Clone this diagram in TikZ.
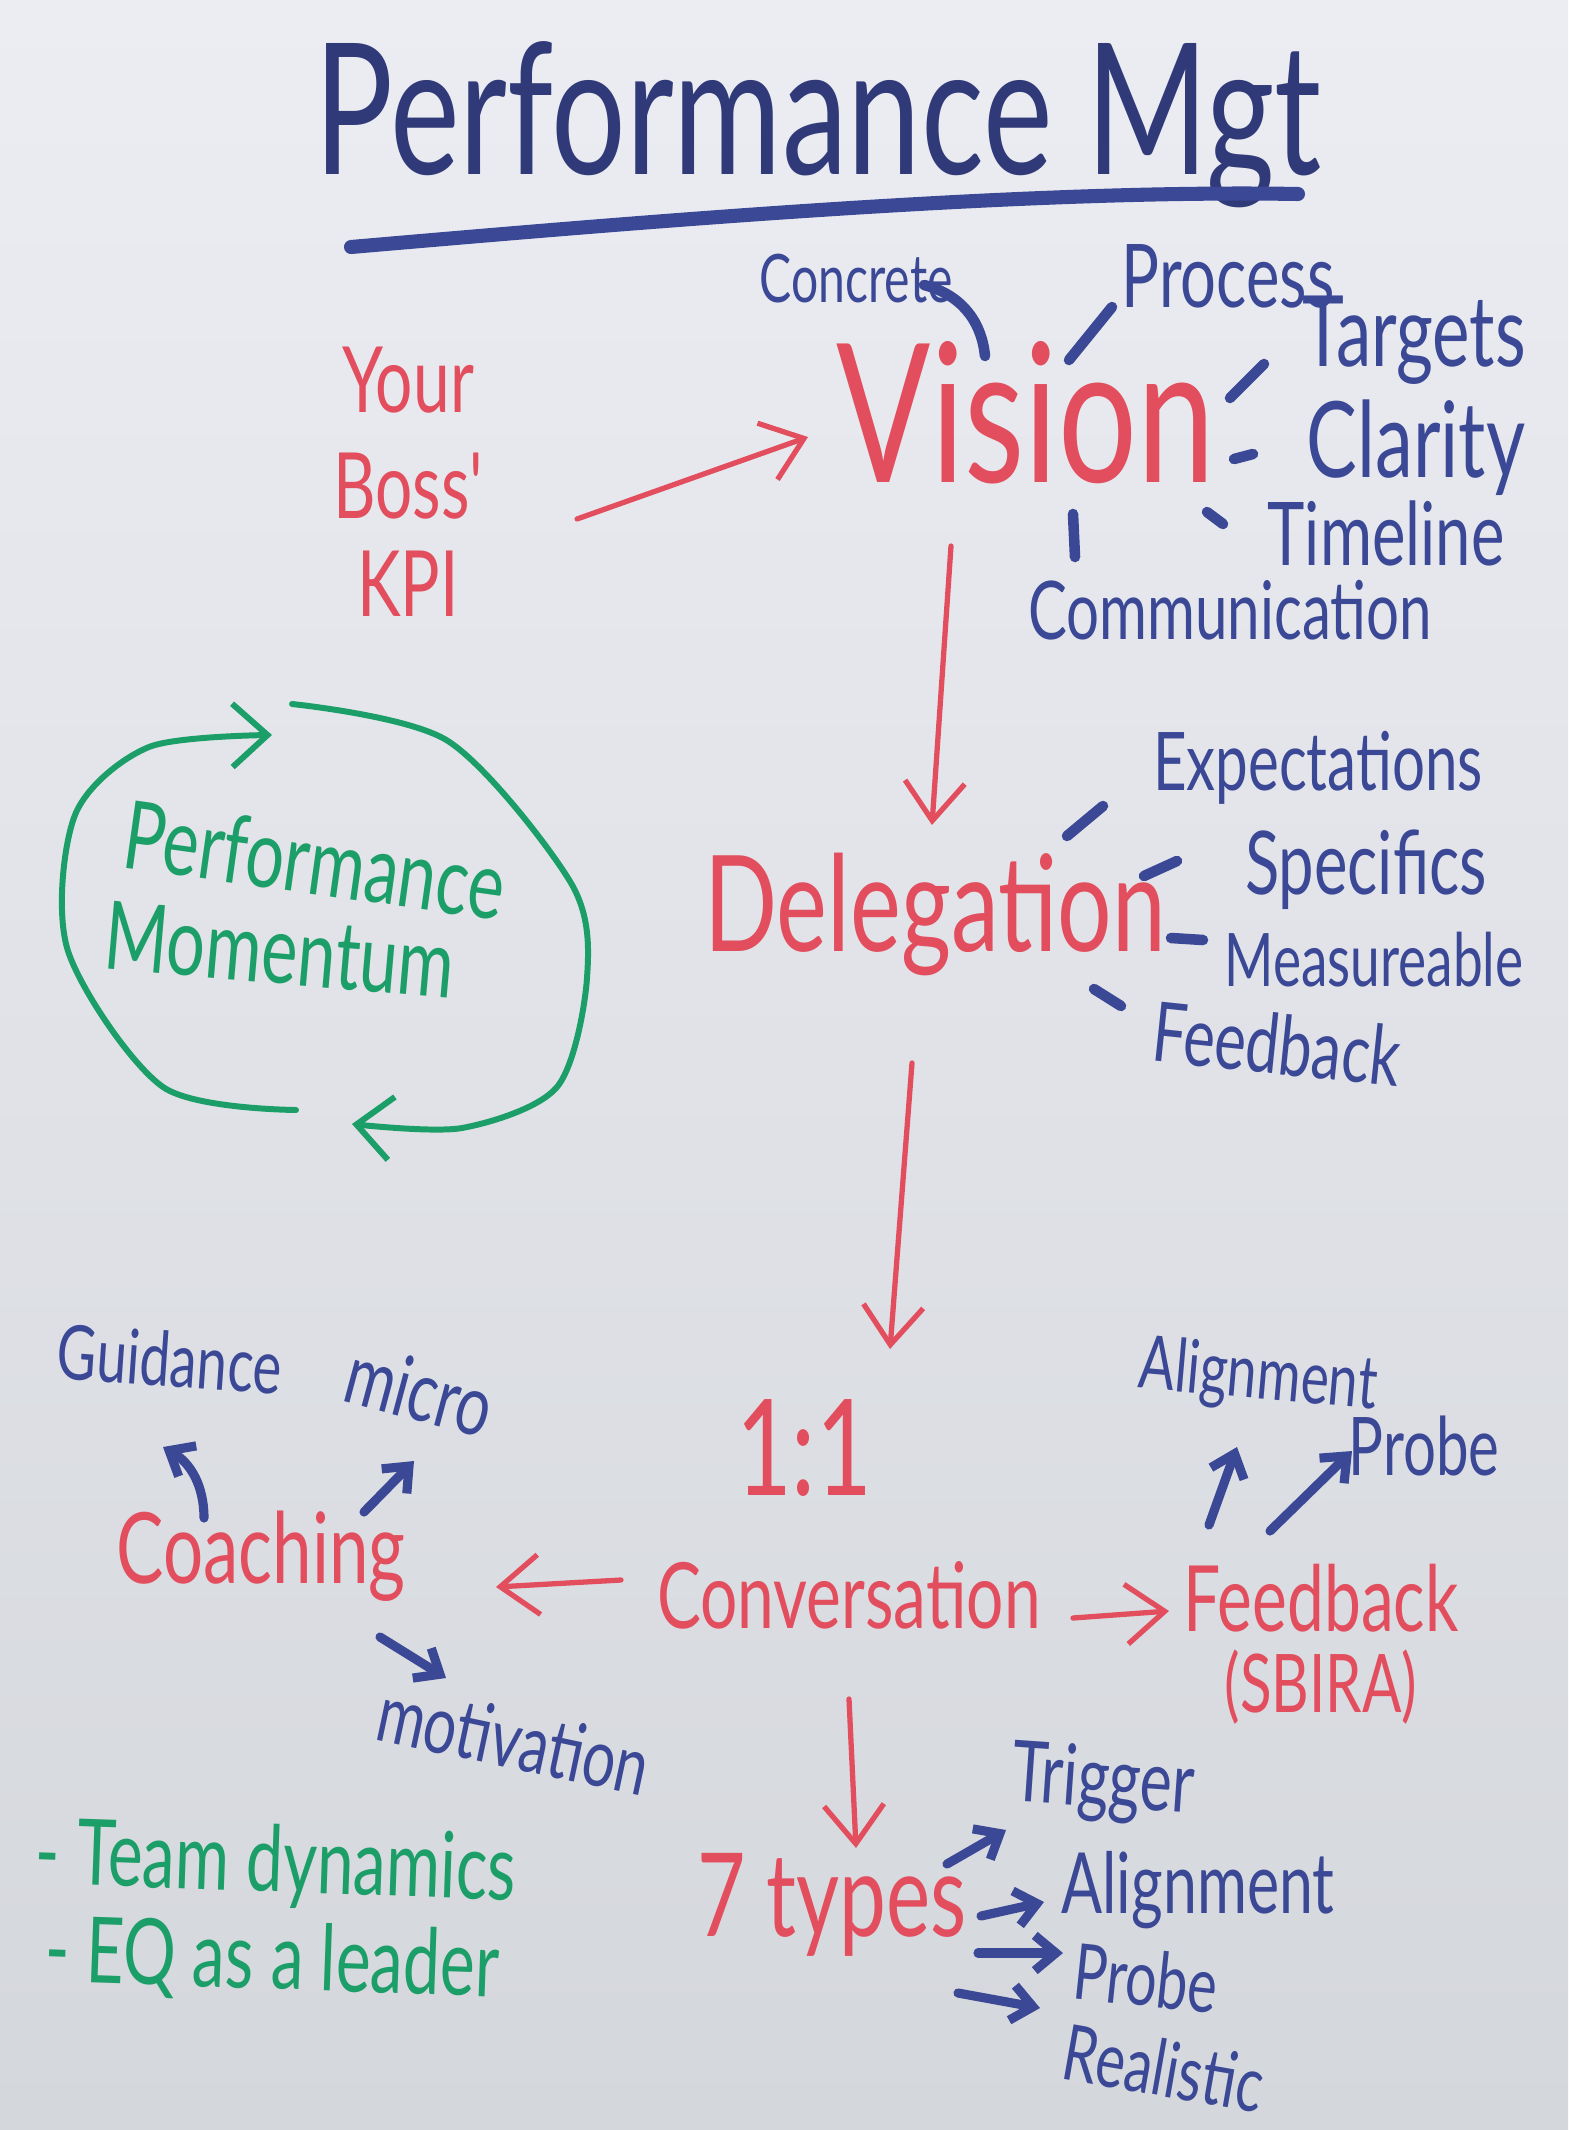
\documentclass[tikz,border=0pt]{standalone}
\usepackage{fontspec}
\newfontfamily\hand[FakeStretch=0.72]{Lato}
\usetikzlibrary{arrows.meta}
\definecolor{markred}{RGB}{226,78,94}
\definecolor{markblue}{RGB}{58,72,150}
\definecolor{inkblue}{RGB}{48,58,120}
\definecolor{markgreen}{RGB}{28,158,104}
\definecolor{boardtop}{RGB}{236,237,242}
\definecolor{boardbot}{RGB}{212,215,220}
\newcommand\mk[1]{\hand\fontsize{#1}{#1}\selectfont}
\tikzset{
  red word/.style={text=markred, inner sep=0pt, anchor=base},
  blue word/.style={text=markblue, inner sep=0pt},
  green word/.style={text=markgreen, inner sep=0pt},
  red arrow/.style={draw=markred, line width=1.5pt, line cap=round,
    -{Straight Barb[length=11pt,width=17pt]}},
  blue arrow/.style={draw=markblue, line width=2.6pt, line cap=round,
    -{Straight Barb[length=6pt,width=10pt]}},
  blue tick/.style={draw=markblue, line width=3pt, line cap=round},
  green arrow/.style={draw=markgreen, line width=1.7pt, line cap=round,
    -{Straight Barb[length=10pt,width=18pt]}},
}
\begin{document}
\begin{tikzpicture}[x=0.01cm,y=-0.01cm]
  \fill[top color=boardtop, bottom color=boardbot] (0,0) rectangle (1568,2130);
  \useasboundingbox (0,0) rectangle (1568,2130);

  % title
  \node[text=inkblue, inner sep=0pt, anchor=base, font=\mk{52}] (title) at (818,174) {Performance Mgt};
  \draw[markblue, line width=4pt, line cap=round]
    ([shift={(-467,73)}]title.base) .. controls ([shift={(-200,50)}]title.base)
    and ([shift={(200,15)}]title.base) .. ([shift={(480,20)}]title.base);

  % main chain
  \node[red word, anchor=center, align=center, font=\mk{26}] (boss) at (408,482) {Your\\[4pt]Boss'\\[2pt]KPI};
  \node[red word, font=\mk{55}] (vision) at (1026,482) {Vision};
  \node[red word, font=\mk{38}] (deleg) at (935,951) {Delegation};
  \node[red word, font=\mk{38}] (one) at (804,1495) {1:1};
  \node[red word, font=\mk{26}] (conv) at (849,1628) {Conversation};
  \node[red word, font=\mk{28}] (coach) at (261,1583) {Coaching};
  \node[red word, font=\mk{26}] (fb) at (1321,1631) {Feedback};
  \node[red word, font=\mk{23}] (sbira) at (1321,1712) {(SBIRA)};
  \node[red word, font=\mk{33}] (seven) at (832,1936) {7 types};

  \draw[red arrow] ([shift={(169,37)}]boss.center) -- ([shift={(-218,-45)}]vision.base);
  \draw[red arrow] ([shift={(-75,64)}]vision.base) -- ([shift={(-3,-126)}]deleg.base);
  \draw[red arrow] ([shift={(-23,112)}]deleg.base) -- ([shift={(86,-146)}]one.base);
  \draw[red arrow] ([shift={(-228,-48)}]conv.base) -- ([shift={(235,4)}]coach.base);
  \draw[red arrow] ([shift={(224,-10)}]conv.base) -- ([shift={(-152,-20)}]fb.base);
  \draw[red arrow] ([shift={(0,71)}]conv.base) -- ([shift={(24,-88)}]seven.base);

  % vision labels
  \node[blue word, font=\mk{19}] (concrete) at (856,279) {Concrete};
  \node[blue word, font=\mk{25}] (process) at (1228,276) {Process};
  \node[blue word, font=\mk{28}] (targets) at (1414,340) {Targets};
  \node[blue word, font=\mk{30}] (clarity) at (1416,448) {Clarity};
  \node[blue word, font=\mk{25}] (timeline) at (1386,533) {Timeline};
  \node[blue word, font=\mk{23}] (comm) at (1230,610) {Communication};
  \draw[blue tick] ([shift={(68,6)}]concrete.center) to[bend left=35] ([shift={(-41,-126)}]vision.base);
  \draw[blue tick] ([shift={(43,-122)}]vision.base) -- ([shift={(-116,31)}]process.center);
  \draw[blue tick] ([shift={(204,-84)}]vision.base) -- ([shift={(-150,24)}]targets.center);
  \draw[blue tick] ([shift={(208,-23)}]vision.base) -- ([shift={(-163,6)}]clarity.center);
  \draw[blue tick] ([shift={(181,30)}]vision.base) -- ([shift={(-163,-9)}]timeline.center);
  \draw[blue tick] ([shift={(47,32)}]vision.base) -- ([shift={(-155,-53)}]comm.center);

  % delegation labels
  \node[blue word, font=\mk{23}] (expect) at (1318,768) {Expectations};
  \node[blue word, font=\mk{25}] (spec) at (1366,870) {Specifics};
  \node[blue word, font=\mk{21}] (meas) at (1374,960) {Measureable};
  \node[blue word, font=\mk{23.5}, rotate=-6] (fbk) at (1277,1044) {Feedback};
  \draw[blue tick] ([shift={(132,-115)}]deleg.base) -- ([shift={(-215,38)}]expect.center);
  \draw[blue tick] ([shift={(209,-75)}]deleg.base) -- ([shift={(-189,-9)}]spec.center);
  \draw[blue tick] ([shift={(236,-13)}]deleg.base) -- ([shift={(-171,-20)}]meas.center);
  \draw[blue tick] ([shift={(159,38)}]deleg.base) -- ([shift={(-156,-38)}]fbk.center);

  % coaching labels
  \node[blue word, font=\mk{21.5}, rotate=-4] (guid) at (170,1359) {Guidance};
  \node[blue word, font=\mk{24}, rotate=-15] (micro) at (420,1390) {micro};
  \node[blue word, font=\mk{23}, rotate=-12] (motiv) at (514,1739) {motivation};
  \draw[blue arrow] ([shift={(-57,-65)}]coach.base) to[bend right=30] ([shift={(-7,88)}]guid.center);
  \draw[blue arrow] ([shift={(103,-71)}]coach.base) -- ([shift={(-6,71)}]micro.center);
  \draw[blue arrow] ([shift={(119,54)}]coach.base) -- ([shift={(-68,-61)}]motiv.center);

  % feedback labels
  \node[blue word, font=\mk{21}, rotate=-5] (alignU) at (1258,1378) {Alignment};
  \node[blue word, font=\mk{23}] (probeU) at (1424,1446) {Probe};
  \draw[blue arrow] ([shift={(-112,-106)}]fb.base) -- ([shift={(-21,69)}]alignU.center);
  \draw[blue arrow] ([shift={(-51,-100)}]fb.base) -- ([shift={(-72,5)}]probeU.center);

  % 7 types labels
  \node[blue word, font=\mk{24}, rotate=-4] (trig) at (1103,1784) {Trigger};
  \node[blue word, font=\mk{24}] (alignL) at (1198,1890) {Alignment};
  \node[blue word, font=\mk{22}, rotate=-6] (probeL) at (1146,1978) {Probe};
  \node[blue word, font=\mk{22}, rotate=-10] (realis) at (1164,2068) {Realistic};
  \draw[blue arrow] ([shift={(115,-72)}]seven.base) -- ([shift={(-97,46)}]trig.center);
  \draw[blue arrow] ([shift={(149,-20)}]seven.base) -- ([shift={(-154,12)}]alignL.center);
  \draw[blue arrow] ([shift={(146,17)}]seven.base) -- ([shift={(-83,-25)}]probeL.center);
  \draw[blue arrow] ([shift={(126,57)}]seven.base) -- ([shift={(-124,-60)}]realis.center);

  % momentum loop
  \node[green word, font=\mk{27}, rotate=-8] (perf) at (315,860) {Performance};
  \node[green word, font=\mk{27}, rotate=-5] (mom) at (280,950) {Momentum};
  \draw[green arrow] plot[smooth] coordinates
    {(296,1110) (163,1087) (68,951) (75,815) (149,747) (272,735)};
  \draw[green arrow] plot[smooth] coordinates
    {(292,704) (448,741) (571,883) (587,978) (557,1087) (462,1128) (352,1124)};

  % notes
  \node[green word, font=\mk{26}, rotate=-2] (team) at (276,1866) {- Team dynamics};
  \node[green word, font=\mk{26}, rotate=-2] (eq) at (272,1962) {- EQ as a leader};
\end{tikzpicture}
\end{document}
